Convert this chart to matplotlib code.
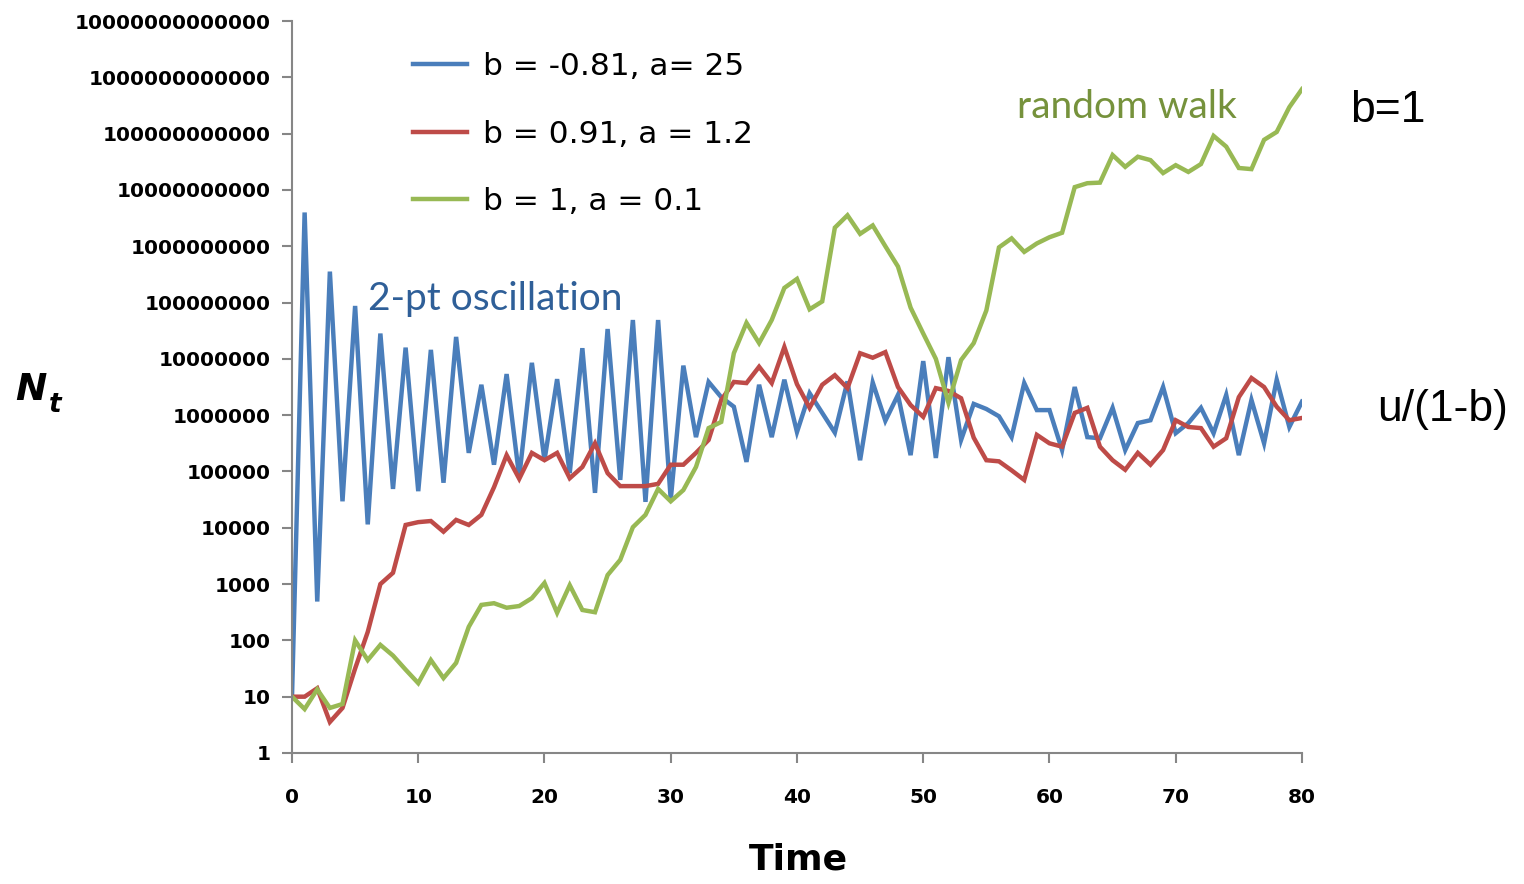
import numpy as np
import matplotlib.pyplot as plt
from matplotlib.ticker import FixedLocator, FuncFormatter, NullLocator

# Valores, como log10(N_t) para t = 0..80
tiempo = np.arange(0, 81)

log_osc = [1.0, 9.6, 2.69, 8.55, 4.47, 7.94, 4.06, 7.45, 4.69, 7.2,
           4.65, 7.16, 4.8, 7.39, 5.33, 6.54, 5.12, 6.73, 4.9, 6.93,
           5.2, 6.64, 4.97, 7.19, 4.62, 7.53, 4.85, 7.69, 4.46, 7.69,
           4.5, 6.88, 5.61, 6.59, 6.32, 6.15, 5.17, 6.54, 5.61, 6.63,
           5.7, 6.39, 6.04, 5.69, 6.6, 5.2, 6.58, 5.9, 6.36, 5.29,
           6.96, 5.24, 7.03, 5.56, 6.2, 6.11, 5.98, 5.61, 6.57, 6.09,
           6.09, 5.38, 6.5, 5.61, 5.59, 6.13, 5.38, 5.86, 5.91, 6.5,
           5.68, 5.86, 6.13, 5.68, 6.36, 5.29, 6.27, 5.5, 6.63, 5.79,
           6.24]

log_amort = [1.0, 1.0, 1.15, 0.55, 0.8, 1.5, 2.15, 3.0, 3.2, 4.05,
             4.1, 4.12, 3.93, 4.14, 4.05, 4.23, 4.72, 5.29, 4.87, 5.33,
             5.2, 5.33, 4.88, 5.08, 5.5, 4.97, 4.74, 4.74, 4.74, 4.78,
             5.12, 5.12, 5.33, 5.56, 6.27, 6.59, 6.57, 6.86, 6.57, 7.21,
             6.55, 6.13, 6.54, 6.71, 6.48, 7.1, 7.02, 7.12, 6.5, 6.18,
             5.97, 6.48, 6.43, 6.3, 5.6, 5.2, 5.18, 5.02, 4.85, 5.65,
             5.5, 5.44, 6.04, 6.13, 5.44, 5.2, 5.03, 5.33, 5.12, 5.38,
             5.91, 5.79, 5.77, 5.44, 5.59, 6.32, 6.66, 6.5, 6.15, 5.91,
             5.95]

log_random = [1.0, 0.78, 1.13, 0.8, 0.87, 2.0, 1.65, 1.92, 1.73, 1.48,
              1.24, 1.65, 1.33, 1.6, 2.24, 2.63, 2.66, 2.58, 2.61, 2.75,
              3.02, 2.49, 2.98, 2.54, 2.5, 3.16, 3.43, 4.01, 4.23, 4.69,
              4.47, 4.67, 5.08, 5.77, 5.88, 7.1, 7.64, 7.28, 7.69, 8.26,
              8.42, 7.88, 8.02, 9.33, 9.55, 9.22, 9.37, 9.0, 8.64, 7.91,
              7.45, 7.0, 6.22, 6.98, 7.28, 7.86, 8.98, 9.14, 8.9, 9.05,
              9.16, 9.24, 10.05, 10.12, 10.13, 10.62, 10.41, 10.59, 10.53, 10.3,
              10.44, 10.32, 10.46, 10.96, 10.77, 10.39, 10.37, 10.89, 11.03, 11.47,
              11.79]

etiquetas = ["b = -0.81, a= 25", "b = 0.91, a = 1.2", "b = 1, a = 0.1"]
colores = ["#4A7EBB", "#BE4B48", "#98B954"]
decadas = [10.0 ** k for k in range(0, 14)]
ticks_x = [0, 10, 20, 30, 40, 50, 60, 70, 80]

fig = plt.figure(figsize=(15.24, 8.84), dpi=100)
ax = fig.add_axes([0.1916, 0.1482, 0.6627, 0.828])

for serie, etiqueta, color in zip([log_osc, log_amort, log_random], etiquetas, colores):
    ax.plot(tiempo, np.power(10.0, serie), color=color, lw=3.2, label=etiqueta,
            solid_joinstyle="miter")

ax.set_yscale("log")
ax.set_ylim(1, 1e13)
ax.set_xlim(0, 80)
ax.yaxis.set_major_locator(FixedLocator(decadas))
ax.yaxis.set_minor_locator(NullLocator())
ax.yaxis.set_major_formatter(FuncFormatter(lambda v, p: f"{int(round(v))}"))
ax.xaxis.set_major_locator(FixedLocator(ticks_x))

for lado in ["top", "right"]:
    ax.spines[lado].set_visible(False)
for lado in ["left", "bottom"]:
    ax.spines[lado].set_color("#868686")
    ax.spines[lado].set_linewidth(1.5)
ax.tick_params(axis="both", direction="out", length=7, width=1.5, color="#868686",
               labelsize=14.5)
ax.tick_params(axis="y", pad=8)
ax.tick_params(axis="x", pad=18)
for lbl in ax.get_xticklabels() + ax.get_yticklabels():
    lbl.set_fontweight("bold")

# etiquetas de ejes
fig.text(798 / 1524, 1 - 860 / 884, "Time", fontsize=26, fontweight="bold",
         ha="center", va="center")
fig.text(15 / 1524, 1 - 390 / 884, "N", fontsize=27, fontweight="bold",
         style="italic", ha="left", va="center")
fig.text(49 / 1524, 1 - 405 / 884, "t", fontsize=19, fontweight="bold",
         style="italic", ha="left", va="center")

ax.legend(loc="upper left", bbox_to_anchor=(0.107, 0.975), borderaxespad=0,
          frameon=False, fontsize=22.5, handlelength=1.75, handletextpad=0.5,
          labelspacing=1.24)

fig.text(368 / 1524, 1 - 299 / 884, "2-pt oscillation", color="#2F5F98",
         fontsize=28, family="Lato", ha="left", va="center")
fig.text(1017 / 1524, 1 - 107 / 884, "random walk", color="#76923C",
         fontsize=28, family="Lato", ha="left", va="center")
fig.text(1350 / 1524, 1 - 110 / 884, "b=1", fontsize=32, family="Liberation Sans",
         ha="left", va="center")
fig.text(1377 / 1524, 1 - 410 / 884, "u/(1-b)", fontsize=32, family="Liberation Sans",
         ha="left", va="center")

fig.savefig("out.png", dpi=100)
